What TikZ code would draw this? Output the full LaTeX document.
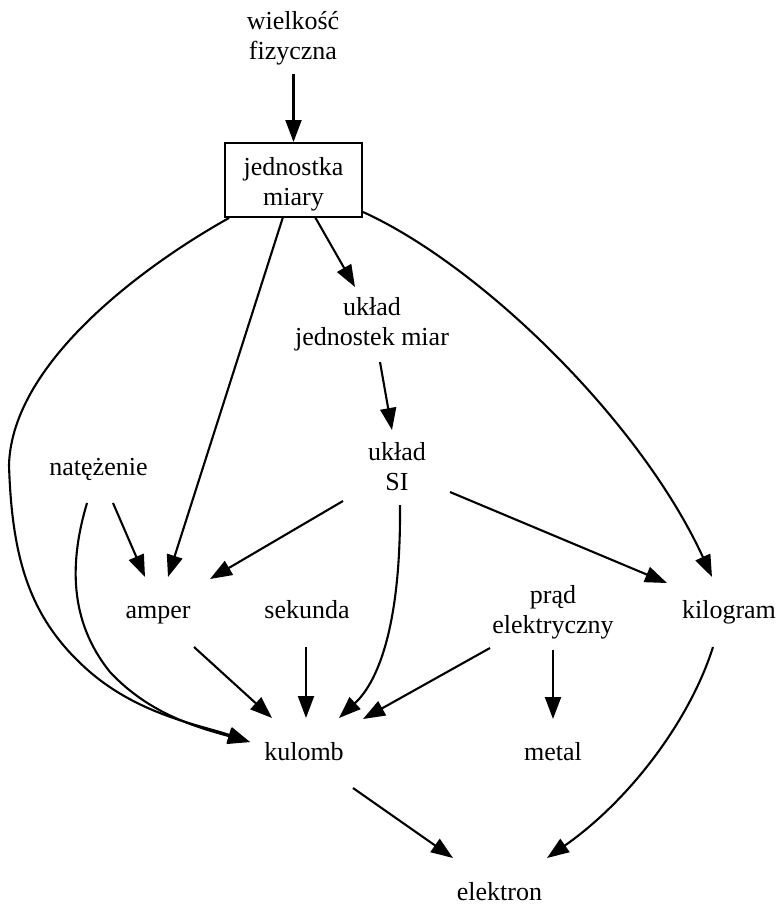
\documentclass[tikz,border=0pt]{standalone}
\usepackage{fontspec}
\setmainfont{Liberation Serif}
\usetikzlibrary{arrows.meta,calc}
\begin{document}
\begin{tikzpicture}[x=1pt,y=-1pt,
  lbl/.style={inner sep=0pt, align=center, font=\fontsize{26}{30}\selectfont},
  boxed/.style={lbl, draw, line width=2pt, minimum width=137pt, minimum height=74pt},
  edge/.style={line width=2.1pt, -{Triangle[length=22pt,width=16pt]}}]
\useasboundingbox (0,0) rectangle (780,906);

% concepts
\node[lbl]   (wf)  at (293,38)    {\strut wielkość\\\strut fizyczna};
\node[boxed] (jm)  at (293.5,180) {\rule{0pt}{29pt}jednostka\\\strut miary};
\node[lbl]   (uj)  at (372,324)   {\strut układ\\\strut jednostek miar};
\node[lbl]   (si)  at (397,469)   {\strut układ\\\strut SI};
\node[lbl]   (nat) at (98.5,469)  {\strut natężenie};
\node[lbl]   (amp) at (158,612)   {\strut amper};
\node[lbl]   (sek) at (307,612)   {\strut sekunda};
\node[lbl]   (pr)  at (553,612)   {\strut prąd\\\strut elektryczny};
\node[lbl]   (kg)  at (729,612)   {\strut kilogram};
\node[lbl]   (kul) at (304,754)   {\strut kulomb};
\node[lbl]   (met) at (553,754)   {\strut metal};
\node[lbl]   (el)  at (499.5,894) {\strut elektron};

% relations
\draw[edge] ($(wf)+(0.5,36)$) -- (jm.north);
\draw[edge] ($(jm)+(21.5,37)$) -- ($(uj)+(-17,-37)$);
\draw[edge] ($(jm)+(-10.5,37)$) -- ($(amp)+(10,-35)$);
\draw[edge] ($(jm)+(-64.5,38)$) .. controls (150,262) and (12,360) .. (9,465)
            .. controls (12,560) and (30,620) .. (90,672)
            .. controls (140,715) and (200,725) .. ($(kul)+(-54,-12)$);
\draw[edge] ($(jm)+(69.5,32)$) .. controls (480,265) and (640,420) .. ($(kg)+(-17,-35)$);
\draw[edge] ($(uj)+(8,38)$) -- ($(si)+(-5,-39)$);
\draw[edge] ($(si)+(-54,32)$) -- ($(amp)+(52,-33)$);
\draw[edge] ($(si)+(3,36)$) .. controls (401,620) and (380,680) .. ($(kul)+(35,-36)$);
\draw[edge] ($(si)+(53,23)$) -- ($(kg)+(-62,-29)$);
\draw[edge] ($(nat)+(14.5,34)$) -- ($(amp)+(-13,-35)$);
\draw[edge] ($(nat)+(-11.5,34)$) .. controls (70,560) and (68,620) .. (110,672)
            .. controls (150,715) and (200,728) .. ($(kul)+(-54,-12)$);
\draw[edge] ($(amp)+(36,35)$) -- ($(kul)+(-32,-36)$);
\draw[edge] ($(sek)+(-1,35)$) -- ($(kul)+(2,-36)$);
\draw[edge] ($(pr)+(-63,36)$) -- ($(kul)+(59,-35)$);
\draw[edge] ($(pr)+(0,38)$) -- ($(met)+(0,-35)$);
\draw[edge] ($(kul)+(49,34)$) -- ($(el)+(-46.5,-36)$);
\draw[edge] ($(kg)+(-16,35)$) .. controls (690,720) and (630,800) .. ($(el)+(47.5,-36)$);
\end{tikzpicture}
\end{document}
